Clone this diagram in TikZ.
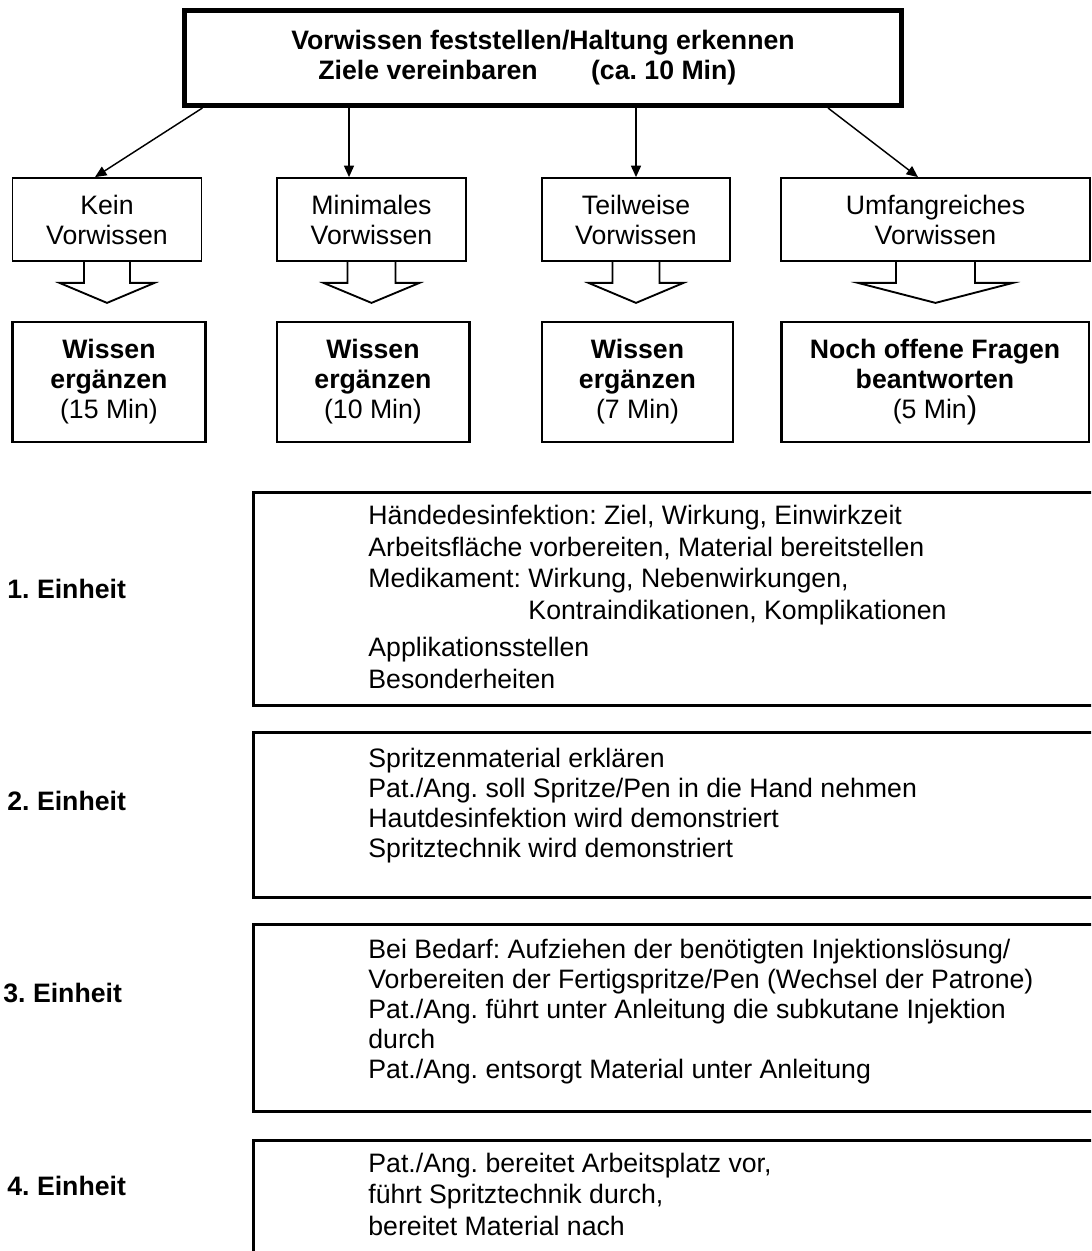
\documentclass[tikz,border=0pt]{standalone}
\usepackage{fontspec}
\setmainfont{Liberation Sans}
\usetikzlibrary{arrows.meta,calc}
\frenchspacing

\newcommand{\blockpfeil}[3]{\draw[line width=0.9pt] (#1.south) ++(-#2,0) -- ++(0,21) -- ++(#2-#3,0) -- ++(#3,20) -- ++(#3,-20) -- ++(#2-#3,0) -- ++(0,-21);}

\begin{document}
\begin{tikzpicture}[x=0.48pt,y=-0.48pt,>={Triangle[length=5.5pt,width=4.8pt]},
  every node/.style={font=\fontsize{12.8pt}{14.4pt}\selectfont},
  ziel/.style={draw,line width=2.4pt,minimum width=344.2pt,minimum height=45.6pt,align=center,font=\fontsize{12.8pt}{14.4pt}\selectfont\bfseries},
  stand/.style={draw,line width=0.9pt,minimum height=39.8pt,align=center,inner sep=0pt},
  lernen/.style={draw,line width=1.4pt,minimum height=57.6pt,align=center,inner sep=0pt},
  einheit/.style={line width=1.6pt},
  pfeil/.style={->,line width=0.7pt},
  liste/.style={anchor=base west,align=left,inner sep=0pt},
  etikett/.style={anchor=base west,inner sep=0pt,font=\fontsize{12.8pt}{14.4pt}\selectfont\bfseries}]
\useasboundingbox (0,0) rectangle (1091,1251);
\clip (0,0) rectangle (1091,1251);

% Kopf
\node[ziel] (ziel) at (543,58) {Vorwissen feststellen/Haltung erkennen\\Ziele vereinbaren\hspace{2em}(ca. 10 Min)\kern15pt};

% Vorwissen
\node[stand,minimum width=90.7pt] (kein) at (107,219.5) {Kein\\Vorwissen};
\node[stand,minimum width=90.7pt] (mini) at (371.5,219.5) {Minimales\\Vorwissen};
\node[stand,minimum width=90.2pt] (teil) at (636,219.5) {Teilweise\\Vorwissen};
\node[stand,minimum width=148.3pt] (umf) at (935.5,219.5) {Umfangreiches\\Vorwissen};

\draw[pfeil] (ziel.south -| kein.north east) -- ($(kein.north)+(-12,0)$);
\draw[pfeil] ($(ziel.south)+(-194,0)$) -- ($(mini.north)+(-22.5,0)$);
\draw[pfeil] (ziel.south -| teil.north) -- (teil.north);
\draw[pfeil] ($(ziel.south)+(285,0)$) -- ($(umf.north)+(-17.5,0)$);

% Wissen
\node[lernen,minimum width=92.2pt] (wissenA) at (109,382) {\textbf{Wissen}\\\textbf{ergänzen}\\(15 Min)};
\node[lernen,minimum width=92.2pt] (wissenB) at (373,382) {\textbf{Wissen}\\\textbf{ergänzen}\\(10 Min)};
\node[lernen,minimum width=91.7pt] (wissenC) at (637.5,382) {\textbf{Wissen}\\\textbf{ergänzen}\\(7 Min)};
\node[lernen,minimum width=147.8pt] (fragen) at (935,382) {\textbf{Noch offene Fragen}\\\textbf{beantworten}\\(5 Min{\fontsize{15pt}{15pt}\selectfont)}};

\blockpfeil{kein}{23}{47.5}
\blockpfeil{mini}{24}{48}
\blockpfeil{teil}{23.5}{47.5}
\blockpfeil{umf}{39.5}{77.5}

% Einheiten
\draw[einheit] (253.5,492.5) rectangle (1110,705.5);
\draw[einheit] (253.5,732.5) rectangle (1110,897.5);
\draw[einheit] (253.5,924.5) rectangle (1110,1111.5);
\draw[einheit] (253.5,1140.5) rectangle (1110,1270);

\node[etikett] (e1) at (7,598) {1. Einheit};
\node[etikett] (e2) at (7,810) {2. Einheit};
\node[etikett] (e3) at (3,1002) {3. Einheit};
\node[etikett] (e4) at (7,1195) {4. Einheit};

\node[liste,font=\fontsize{12.8pt}{15.1pt}\selectfont] (liste1) at (368,688) {Händedesinfektion: Ziel, Wirkung, Einwirkzeit\\Arbeitsfläche vorbereiten, Material bereitstellen\\Medikament: Wirkung, Nebenwirkungen,\\\phantom{Medikament: }Kontraindikationen, Komplikationen\\[2.9pt]Applikationsstellen\\Besonderheiten};
\node[liste] (liste2) at (368,857) {Spritzenmaterial erklären\\Pat./Ang. soll Spritze/Pen in die Hand nehmen\\Hautdesinfektion wird demonstriert\\Spritztechnik wird demonstriert};
\node[liste] (liste3) at (368,1078) {Bei Bedarf: Aufziehen der benötigten Injektionslösung/\\Vorbereiten der Fertigspritze/Pen (Wechsel der Patrone)\\Pat./Ang. führt unter Anleitung die subkutane Injektion\\durch\\Pat./Ang. entsorgt Material unter Anleitung};
\node[liste,font=\fontsize{12.8pt}{14.9pt}\selectfont] (liste4) at (368,1235) {Pat./Ang. bereitet Arbeitsplatz vor,\\führt Spritztechnik durch,\\bereitet Material nach};

\end{tikzpicture}
\end{document}
